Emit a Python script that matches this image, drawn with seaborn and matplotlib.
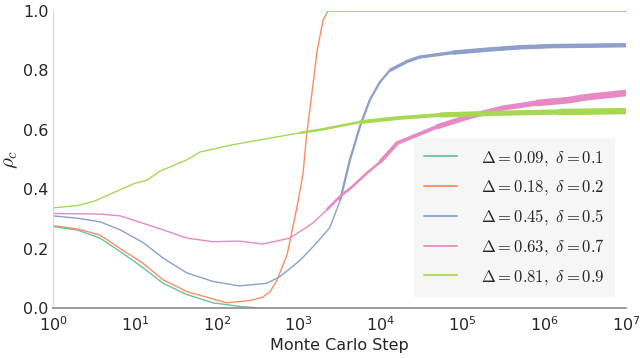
import numpy as np
import pandas as pd
import seaborn as sns
from matplotlib import pyplot as plt

labels = [
    r"$\Delta=0.09,\ \delta=0.1$",
    r"$\Delta=0.18,\ \delta=0.2$",
    r"$\Delta=0.45,\ \delta=0.5$",
    r"$\Delta=0.63,\ \delta=0.7$",
    r"$\Delta=0.81,\ \delta=0.9$",
]

x_d009 = [1, 2, 3.75, 6.6, 12.6, 22, 43, 90, 190, 310]
y_d009 = [0.274, 0.262, 0.235, 0.19, 0.135, 0.083, 0.045, 0.017, 0.005, 0.0]

x_d018 = [1, 2, 3.75, 6.6, 12.6, 22, 43, 90, 133, 255, 365, 450, 545, 725,
          955, 1130, 1260, 1450, 1670, 1990, 2280, 1e7]
y_d018 = [0.277, 0.266, 0.245, 0.20, 0.15, 0.095, 0.055, 0.03, 0.017, 0.025,
          0.036, 0.055, 0.094, 0.18, 0.34, 0.45, 0.59, 0.72, 0.86, 0.97, 1.0,
          1.0]

x_d045 = [1, 2, 3.75, 6.6, 12.6, 22, 43, 90, 190, 410, 590, 1040, 1670, 2400,
          3200, 4250, 5600, 7400, 9800, 13000, 21000, 30000, 76000, 2e5, 5e5,
          1.26e6, 1e7]
y_d045 = [0.31, 0.302, 0.29, 0.263, 0.22, 0.168, 0.118, 0.089, 0.074, 0.083,
          0.105, 0.16, 0.22, 0.27, 0.36, 0.50, 0.61, 0.70, 0.76, 0.80, 0.83,
          0.845, 0.86, 0.87, 0.878, 0.882, 0.885]

x_d063 = [1, 3.75, 6.6, 12.6, 22, 43, 90, 190, 365, 780, 1480, 2200, 3200,
          4600, 6800, 9800, 16000, 49000, 1.2e5, 3.1e5, 8e5, 2e6, 3.3e6, 1e7]
y_d063 = [0.318, 0.316, 0.31, 0.285, 0.263, 0.235, 0.223, 0.225, 0.215, 0.235,
          0.285, 0.33, 0.375, 0.41, 0.454, 0.49, 0.555, 0.61, 0.644, 0.673,
          0.69, 0.70, 0.71, 0.724]

x_d081 = [1, 2, 3.2, 10, 14, 20, 44, 62, 158, 407, 1050, 1820, 5600, 17000,
          54000, 2.9e5, 1.5e6, 1e7]
y_d081 = [0.337, 0.345, 0.36, 0.42, 0.43, 0.46, 0.50, 0.525, 0.55, 0.57, 0.59,
          0.60, 0.626, 0.64, 0.65, 0.656, 0.66, 0.663]

xs = [x_d009, x_d018, x_d045, x_d063, x_d081]
ys = [y_d009, y_d018, y_d045, y_d063, y_d081]
# the late parts are noisy bands that get wider: (from step, line width)
bands = [
    [],
    [],
    [(3000, 1.6), (13000, 2.4), (76000, 3.2)],
    [(2200, 1.8), (9800, 2.8), (49000, 3.8), (8e5, 4.8)],
    [(1050, 1.8), (5600, 2.8), (54000, 3.8), (1.5e6, 4.6)],
]

frames = []
for lab, x, y in zip(labels, xs, ys):
    frames.append(pd.DataFrame({"step": x, "rho": y, "case": lab}))
df = pd.concat(frames, ignore_index=True)

sns.set_style("white")
plt.rcParams["mathtext.fontset"] = "cm"
plt.rcParams["font.family"] = ["DejaVu Sans"]
pal = sns.color_palette("Set2", 5)

fig = plt.figure(figsize=(6.4, 3.58), dpi=100)
ax = fig.add_axes([0.083, 0.14, 0.895, 0.829])

sns.lineplot(data=df, x="step", y="rho", hue="case", palette=pal,
             linewidth=1.0, ax=ax)

for i, lab in enumerate(labels):
    for start, lw in bands[i]:
        part = df[(df["case"] == lab) & (df["step"] >= start)]
        sns.lineplot(data=part, x="step", y="rho", color=pal[i], linewidth=lw,
                     solid_capstyle="butt", legend=False, ax=ax)

ax.set_xscale("log")
ax.set_xlim(1, 1e7)
ax.set_ylim(0, 1.0)
ax.set_xticks([10.0 ** k for k in range(8)])
ax.minorticks_off()
ax.set_yticks([0, 0.2, 0.4, 0.6, 0.8, 1.0])
ax.set_yticklabels(["0.0", "0.2", "0.4", "0.6", "0.8", "1.0"])
ax.tick_params(axis="both", labelsize=11.5, length=3, direction="in",
               color="#999999")
ax.tick_params(axis="x", pad=5)
ax.set_xlabel("Monte Carlo Step", fontsize=11.5, labelpad=3)
ax.set_ylabel(r"$\rho_c$", fontsize=15, labelpad=2)

for s in ["top", "right"]:
    ax.spines[s].set_visible(False)
ax.spines["left"].set_color("#d8d8d8")
ax.spines["bottom"].set_color("#8a8a8a")
ax.spines["bottom"].set_linewidth(1.2)

leg = ax.legend(loc="lower right", bbox_to_anchor=(0.995, 0.01), fontsize=12,
                frameon=True, facecolor="#f6f6f6", edgecolor="none",
                framealpha=1.0, fancybox=False, handlelength=2.0,
                labelspacing=0.6, borderpad=0.6, handletextpad=1.4)
for h in leg.get_lines():
    h.set_linewidth(1.3)

fig.savefig("out.png", dpi=100)
